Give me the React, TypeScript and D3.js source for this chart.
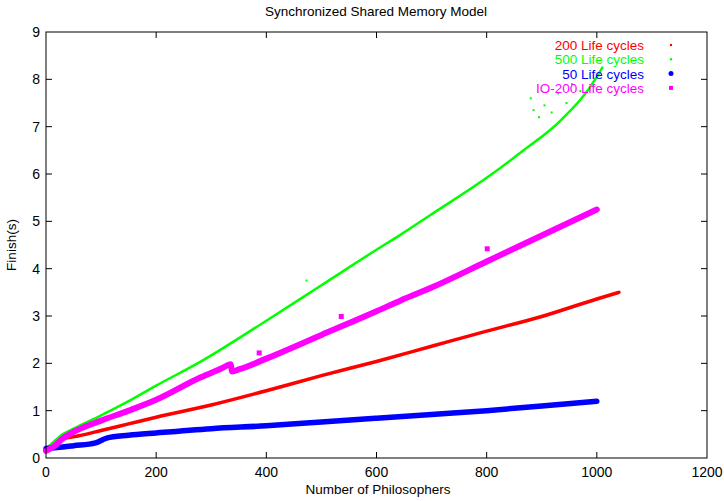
import * as d3 from "d3";

// values (x = philosophers, y = finish seconds)
const red200: [number, number][] = [
  [0, 0.15], [15, 0.3], [30, 0.4], [60, 0.47], [100, 0.58], [150, 0.72], [200, 0.86],
  [300, 1.12], [400, 1.42], [500, 1.74], [600, 2.04], [700, 2.36], [800, 2.68],
  [900, 2.99], [1000, 3.36], [1040, 3.5],
];
const green500: [number, number][] = [
  [0, 0.2], [10, 0.3], [30, 0.5], [50, 0.62], [100, 0.9], [150, 1.2], [200, 1.53],
  [280, 2.03], [400, 2.9], [500, 3.65], [600, 4.4], [644, 4.72], [700, 5.15],
  [800, 5.92], [867, 6.5], [935, 7.14], [1000, 8.05], [1010, 8.25],
];
const blue50: [number, number][] = [
  [0, 0.2], [20, 0.22], [50, 0.26], [90, 0.32], [110, 0.42], [150, 0.48], [200, 0.53],
  [300, 0.62], [400, 0.68], [500, 0.76], [600, 0.84], [700, 0.92], [800, 1.0],
  [900, 1.1], [1000, 1.2],
];
const magentaIO: [number, number][] = [
  [0, 0.15], [15, 0.25], [30, 0.41], [50, 0.55], [100, 0.79], [150, 1.0], [200, 1.23],
  [280, 1.7], [320, 1.9], [335, 1.98], [338, 1.83], [350, 1.87], [400, 2.1], [500, 2.6],
  [600, 3.1], [644, 3.33], [700, 3.6], [800, 4.15], [900, 4.7], [1000, 5.25],
];
const greenOutliers: [number, number][] = [
  [473, 3.75], [880, 7.6], [885, 7.35], [895, 7.2], [905, 7.45], [918, 7.3],
  [930, 7.7], [945, 7.5], [955, 7.9], [970, 7.75],
];
const magentaOutliers: [number, number][] = [[387, 2.22], [536, 2.99], [801, 4.42]];

const xTicks = [0, 200, 400, 600, 800, 1000, 1200];
const yTicks = [0, 1, 2, 3, 4, 5, 6, 7, 8, 9];

const series = [
  { label: "200 Life cycles", color: "#ff0000", data: red200, width: 3.5, mark: "dot", r: 1.2 },
  { label: "500 Life cycles", color: "#00ff00", data: green500, width: 2.5, mark: "dot", r: 1.2 },
  { label: "50 Life cycles", color: "#0000ff", data: blue50, width: 5.5, mark: "dot", r: 2.5 },
  { label: "IO-200 Life cycles", color: "#ff00ff", data: magentaIO, width: 6, mark: "square", r: 2 },
];

export default function App() {
  const W = 724, H = 501;
  const m = { left: 46, right: 17, top: 32, bottom: 43 };
  const x = d3.scaleLinear().domain([0, 1200]).range([m.left, W - m.right]);
  const y = d3.scaleLinear().domain([0, 9]).range([H - m.bottom, m.top]);
  const line = d3.line<[number, number]>().x((d) => x(d[0])).y((d) => y(d[1])).curve(d3.curveMonotoneX);
  const font = "'Liberation Sans', Arial, sans-serif";
  const tick = 6;

  return (
    <svg width={W} height={H} style={{ position: "absolute", left: 0, top: 0, background: "#fff" }} fontFamily={font}>
      <text x={376} y={16} textAnchor="middle" fontSize={13.5}>Synchronized Shared Memory Model</text>

      {yTicks.map((t) => (
        <g key={"y" + t}>
          {t > 0 && t < 9 && <>
            <line x1={x(0)} x2={x(0) + tick} y1={y(t)} y2={y(t)} stroke="#000" />
            <line x1={x(1200)} x2={x(1200) - tick} y1={y(t)} y2={y(t)} stroke="#000" />
          </>}
          <text x={x(0) - 6} y={y(t) + 5} textAnchor="end" fontSize={14}>{t}</text>
        </g>
      ))}
      {xTicks.map((t) => (
        <g key={"x" + t}>
          {t > 0 && t < 1200 && <>
            <line x1={x(t)} x2={x(t)} y1={y(0)} y2={y(0) - tick} stroke="#000" />
            <line x1={x(t)} x2={x(t)} y1={y(9)} y2={y(9) + tick} stroke="#000" />
          </>}
          <text x={x(t)} y={y(0) + 19} textAnchor="middle" fontSize={14}>{t}</text>
        </g>
      ))}

      <text x={378} y={494} textAnchor="middle" fontSize={13.5}>Number of Philosophers</text>
      <text transform={`translate(16,${(m.top + H - m.bottom) / 2}) rotate(-90)`} textAnchor="middle" fontSize={13.5}>Finish(s)</text>

      {series.map((s) => (
        <path key={s.label} d={line(s.data) ?? ""} fill="none" stroke={s.color} strokeWidth={s.width} strokeLinejoin="round" strokeLinecap="round" />
      ))}
      {greenOutliers.map((d, i) => (
        <rect key={"go" + i} x={x(d[0]) - 1} y={y(d[1]) - 1} width={2} height={2} fill="#00ff00" />
      ))}
      {magentaOutliers.map((d, i) => (
        <rect key={"mo" + i} x={x(d[0]) - 2.5} y={y(d[1]) - 2.5} width={5} height={5} fill="#ff00ff" />
      ))}

      {series.map((s, i) => (
        <g key={"lg" + s.label}>
          <text x={644} y={50 + i * 14.3} textAnchor="end" fontSize={13.5} fill={s.color}>{s.label}</text>
          {s.mark === "square"
            ? <rect x={671 - s.r} y={45 + i * 14.3 - s.r} width={s.r * 2} height={s.r * 2} fill={s.color} />
            : <circle cx={671} cy={45 + i * 14.3} r={s.r} fill={s.color} />}
        </g>
      ))}

      <rect x={x(0)} y={y(9)} width={x(1200) - x(0)} height={y(0) - y(9)} fill="none" stroke="#000" strokeWidth={1} />
    </svg>
  );
}
